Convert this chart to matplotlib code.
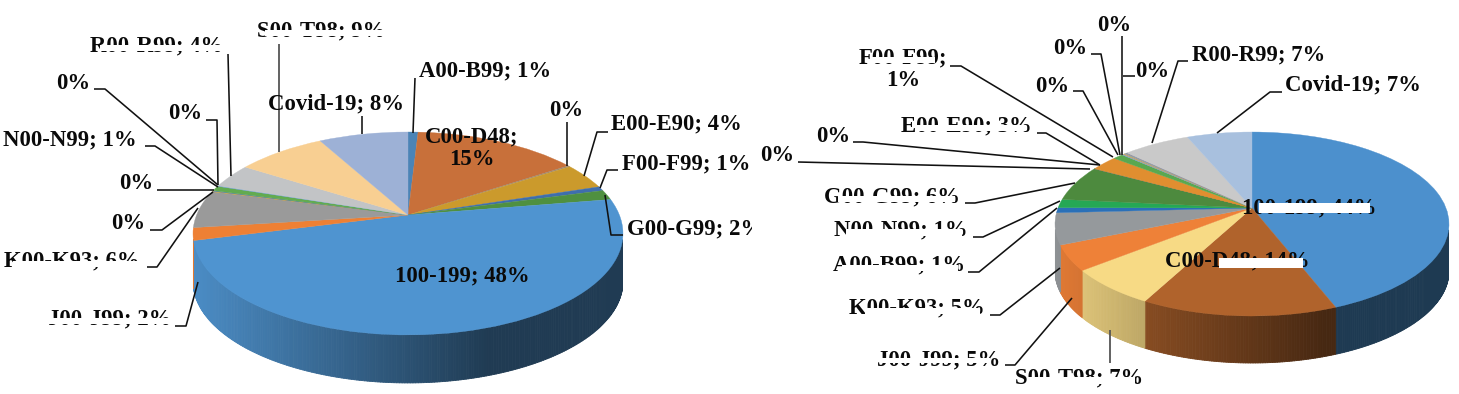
import numpy as np
import matplotlib
matplotlib.use("Agg")
import matplotlib.pyplot as plt
from matplotlib.colors import to_rgb
from matplotlib.transforms import Transform
from matplotlib.collections import PolyCollection

# ---------- data ----------
left_values = [0.9, 14.8, 0.2, 4.2, 0.7, 1.6, 48.6, 2.0, 6.0, 0.1, 0.1, 0.8, 0.1, 3.9, 8.0, 8.0]
left_colors = ['#4b84b6', '#c8703a', '#a08a70', '#cb9a2c', '#3f6eac', '#4f9040', '#4f94d0', '#ee8034',
               '#9a9a9a', '#d0a030', '#5080c0', '#62ab50', '#70a0d0', '#c2c4c6', '#f8cf92', '#9db1d6']
right_values = [44.05, 13.6, 6.5, 4.4, 5.5, 0.9, 1.5, 6.3, 0.05, 0.05, 2.6, 1.0, 0.15, 0.15, 0.15, 0.15, 6.5, 6.3]
right_colors = ['#4c90cd', '#b0632c', '#f7da85', '#ee8138', '#95999c', '#2a70b8', '#25a855', '#4d8a3e',
                '#7a7a7a', '#c09030', '#e08e30', '#5aa850', '#80a0d0', '#d0a050', '#90a0a0', '#9090a0',
                '#c9c9c9', '#a8c0de']
left_labels = [
    ('A00-B99; 1%', 419, 71, 'left'), ('C00-D48;\n15%', 472, 148, 'center'), ('0%', 566, 110, 'center'),
    ('E00-E90; 4%', 611, 124, 'left'), ('F00-F99; 1%', 622, 164, 'left'), ('G00-G99; 2%', 627, 229, 'left'),
    ('100-199; 48%', 462, 276, 'center'), ('J00-J99; 2%', 172, 319, 'right'), ('K00-K93; 6%', 140, 261, 'right'),
    ('0%', 128, 223, 'center'), ('0%', 136, 183, 'center'), ('N00-N99; 1%', 137, 140, 'right'),
    ('0%', 185, 113, 'center'), ('0%', 73, 83, 'center'), ('R00-R99; 4%', 223, 46, 'right'),
    ('S00-T98; 9%', 385, 31, 'right'), ('Covid-19; 8%', 336, 104, 'center'),
]
right_labels = [
    ('100-199; 44%', 1309, 208, 'center'), ('C00-D48; 14%', 1237, 261, 'center'), ('S00-T98; 7%', 1143, 378, 'right'),
    ('J00-J99; 5%', 1000, 360, 'right'), ('K00-K93; 5%', 985, 308, 'right'), ('A00-B99; 1%', 965, 265, 'right'),
    ('N00-N99; 1%', 968, 230, 'right'), ('G00-G99; 6%', 960, 197, 'right'), ('0%', 777, 155, 'center'),
    ('0%', 833, 136, 'center'), ('E00-E90; 3%', 1032, 126, 'right'), ('F00-F99;\n1%', 903, 69, 'center'),
    ('0%', 1052, 86, 'center'), ('0%', 1070, 48, 'center'), ('0%', 1114, 25, 'center'), ('0%', 1152, 71, 'center'),
    ('R00-R99; 7%', 1192, 55, 'left'), ('Covid-19; 7%', 1285, 85, 'left'),
]

# ---------- layout (pixels) ----------
W, H = 1459, 394
LEFT_GEOM = dict(cx=408, y0=215, A=211.4, B=98.1, k=0.182, depth=48, xmin=193, xmax=622)
RIGHT_GEOM = dict(cx=1252, y0=208, A=194.0, B=89.2, k=0.174, depth=47, xmin=1055, xmax=1449)
LEADERS = [
    [(415, 78), (413, 133)], [(567, 122), (567, 166)], [(608, 132), (597, 132), (584, 176)],
    [(618, 170), (607, 170), (600, 188)], [(623, 235), (611, 235), (605, 195)],
    [(94, 89), (105, 89), (218, 185)], [(206, 120), (217, 120), (218, 185)], [(145, 146), (155, 146), (218, 187)],
    [(157, 190), (214, 190)], [(150, 230), (162, 230), (213, 192)], [(147, 267), (157, 267), (198, 208)],
    [(175, 326), (186, 326), (198, 282)], [(228, 54), (231, 176)], [(362, 116), (362, 134)],
    [(950, 66), (961, 66), (1113, 157)], [(1122, 36), (1122, 155)], [(1091, 54), (1101, 54), (1120, 155)],
    [(1073, 91), (1083, 91), (1118, 155)], [(1135, 76), (1123, 76)], [(1037, 133), (1046, 133), (1100, 165)],
    [(853, 142), (863, 142), (1100, 165)], [(798, 162), (1090, 169)], [(965, 203), (975, 203), (1075, 183)],
    [(973, 237), (983, 237), (1060, 201)], [(968, 272), (979, 272), (1057, 208)],
    [(990, 315), (1000, 315), (1060, 268)], [(1005, 365), (1015, 365), (1072, 298)],
    [(1188, 61), (1178, 61), (1152, 143)], [(1282, 92), (1270, 92), (1217, 133)],
]
GREY_LEADERS = [[(279, 44), (279, 152)], [(1110, 363), (1110, 330)]]
MASKS = [
    (13, 261, 142, 267), (48, 318, 172, 324), (100, 45, 223, 51), (265, 30, 385, 36), (752, 212, 765, 246),
    (1259, 203, 1370, 213), (1219, 258, 1303, 268), (872, 57, 935, 63), (915, 125, 1026, 131),
    (838, 196, 955, 202), (846, 229, 962, 236), (842, 265, 958, 271), (865, 308, 980, 314),
    (882, 358, 990, 363), (1028, 377, 1135, 384),
]
FONT = dict(family='Liberation Serif', fontweight='bold', fontsize=16.4, color='#0a0a0a', linespacing=1.1)


class Persp(Transform):
    input_dims = output_dims = 2
    is_affine = False
    has_inverse = False

    def __init__(self, g, dy=0):
        super().__init__()
        self.g = g
        self.dy = dy

    def transform_non_affine(self, values):
        v = np.asarray(values, float)
        w = 1 + self.g['k'] * v[:, 1]
        return np.column_stack([self.g['cx'] + self.g['A'] * v[:, 0] / w,
                                self.g['y0'] - self.g['B'] * v[:, 1] / w + self.dy])


def shade(t):
    return max(0.40, 0.95 - 0.8 * t)


def draw_pie(ax, values, colors, g):
    wedges, _ = ax.pie(values, colors=colors, startangle=90, counterclock=False, radius=1, center=(0, 0))
    persp = Persp(g)
    quads, fcs = [], []
    for w, c in zip(wedges, colors):
        w.set_transform(persp + ax.transData)
        w.set_zorder(3)
        w.set_edgecolor(c)
        w.set_linewidth(0.25)
        n = max(2, int(np.ceil((w.theta2 - w.theta1) / 0.6)))
        th = np.deg2rad(np.linspace(w.theta1, w.theta2, n + 1))
        pts = persp.transform_non_affine(np.column_stack([np.cos(th), np.sin(th)]))
        base = np.array(to_rgb(c))
        for i in range(n):
            # only the part of the rim below the silhouette faces the viewer
            if np.sin((th[i] + th[i + 1]) / 2) > -g['k'] - 0.06:
                continue
            (x0, y0), (x1, y1) = pts[i], pts[i + 1]
            d = g['depth']
            quads.append([(x0, y0), (x1, y1), (x1, y1 + d), (x0, y0 + d)])
            t = ((x0 + x1) / 2 - g['xmin']) / (g['xmax'] - g['xmin'])
            fcs.append(tuple(base * shade(t)))
    ax.add_collection(PolyCollection(quads, facecolors=fcs, edgecolors=fcs, linewidths=0.6, zorder=2))


fig = plt.figure(figsize=(W / 100, H / 100), dpi=100)
ax = fig.add_axes([0, 0, 1, 1])
draw_pie(ax, left_values, left_colors, LEFT_GEOM)
draw_pie(ax, right_values, right_colors, RIGHT_GEOM)
ax.set_aspect('auto')
ax.set_xlim(0, W)
ax.set_ylim(H, 0)
ax.axis('off')

for pts in LEADERS:
    xs, ys = zip(*pts)
    ax.plot(xs, ys, color='#111111', lw=1.15, zorder=4, solid_capstyle='butt')
for pts in GREY_LEADERS:
    xs, ys = zip(*pts)
    ax.plot(xs, ys, color='#555555', lw=1.3, zorder=4, solid_capstyle='butt')
for s, x, y, ha in left_labels + right_labels:
    ax.text(x, y, s, ha=ha, va='center', multialignment='center', zorder=5, **FONT)
for x0, y0, x1, y1 in MASKS:
    ax.fill_between([x0, x1], y0, y1, color='white', lw=0, zorder=6)

fig.savefig('out.png', dpi=100, facecolor='white')
